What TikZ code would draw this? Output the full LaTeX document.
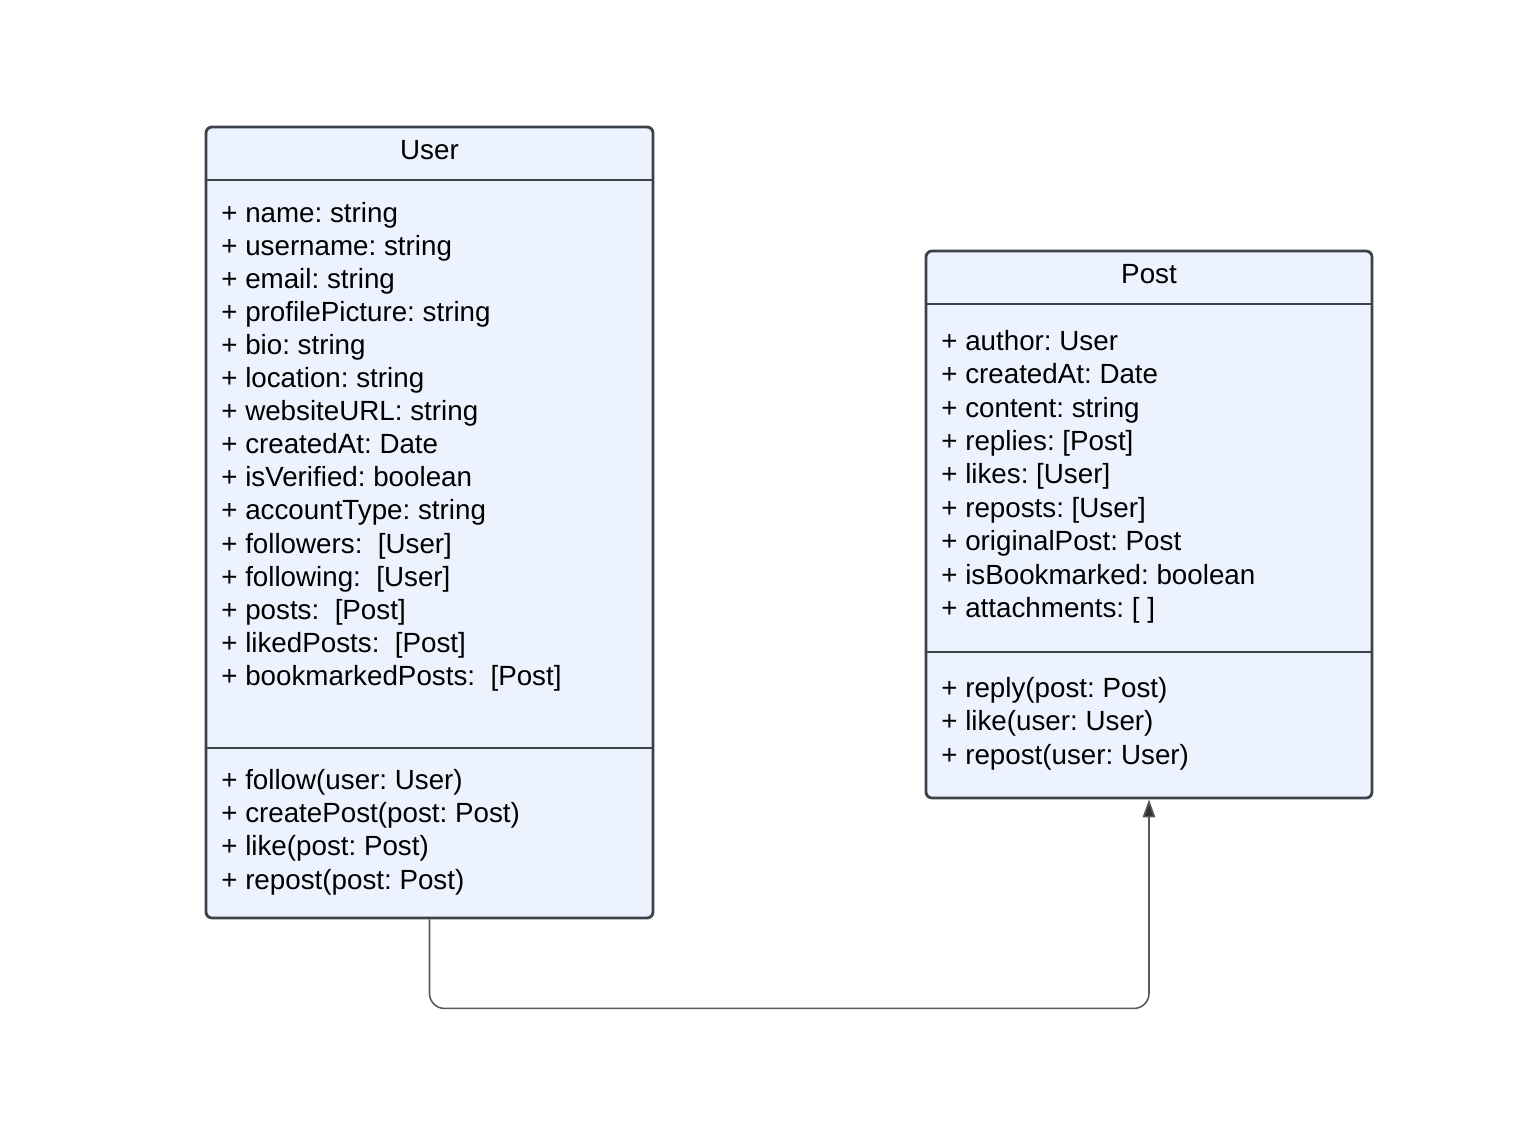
\documentclass[tikz,border=0pt]{standalone}
\usepackage{fontspec}
\setmainfont{Liberation Sans}
\usetikzlibrary{arrows.meta,positioning,fit}

\definecolor{boxfill}{RGB}{237,243,254}
\definecolor{boxline}{RGB}{60,66,74}
\definecolor{linkgray}{RGB}{90,90,90}
\definecolor{tipgray}{RGB}{50,50,50}

\tikzset{
  classbox/.style={draw=boxline, fill=boxfill, line width=1.6pt, rounded corners=0.12cm, inner sep=0pt},
  divider/.style={draw=boxline, line width=1.6pt},
  member/.style={anchor=west, inner sep=0pt, text height=0.72em, text depth=0pt, font=\fontsize{15.8}{18}\selectfont\frenchspacing},
  classname/.style={member, anchor=center},
  link/.style={draw=linkgray, line width=0.9pt, rounded corners=0.3cm, -{Triangle[length=0.36cm,width=0.25cm,fill=tipgray]}}
}

\begin{document}
\begin{tikzpicture}[x=0.02cm,y=-0.02cm]
  \useasboundingbox[fill=white] (0,0) rectangle (1534,1123);
  % classes
  \node[classbox, fit={(206,127) (653,918)}] (user) {};
  \node[classbox, fit={(926,251) (1372,798)}] (post) {};
  \draw[divider] (user.west |- 0,180) -- (user.east |- 0,180);
  \draw[divider] (user.west |- 0,748) -- (user.east |- 0,748);
  \draw[divider] (post.west |- 0,304) -- (post.east |- 0,304);
  \draw[divider] (post.west |- 0,652) -- (post.east |- 0,652);
  \node[classname] (usertitle) at (429.5,153) {User};
  \node[classname] (posttitle) at (1149,277) {Post};
  % User members
  \foreach \txt [count=\i from 0] in {+ name: string, + username: string, + email: string,
      + profilePicture: string, + bio: string, + location: string, + websiteURL: string,
      + createdAt: Date, + isVerified: boolean, + accountType: string,
      + followers:~ [User], + following:~ [User], + posts:~ [Post],
      + likedPosts:~ [Post], + bookmarkedPosts:~ [Post]}
    \node[member] (ua\i) at (221,216+33.07*\i) {\txt};
  \foreach \txt [count=\i from 0] in {+ follow(user: User), + createPost(post: Post),
      + like(post: Post), + repost(post: Post)}
    \node[member] (um\i) at (221,783+33.3*\i) {\txt};
  % Post members
  \foreach \txt [count=\i from 0] in {+ author: User, + createdAt: Date, + content: string,
      + replies: [Post], + likes: [User], + reposts: [User], + originalPost: Post,
      + isBookmarked: boolean, + attachments: [ ]}
    \node[member] (pa\i) at (941,344+33.4*\i) {\txt};
  \foreach \txt [count=\i from 0] in {+ reply(post: Post), + like(user: User), + repost(user: User)}
    \node[member] (pm\i) at (941,691+33.5*\i) {\txt};
  % association
  \draw[link] (user.south) -- ++(0,89) -| (post.south);
\end{tikzpicture}
\end{document}
